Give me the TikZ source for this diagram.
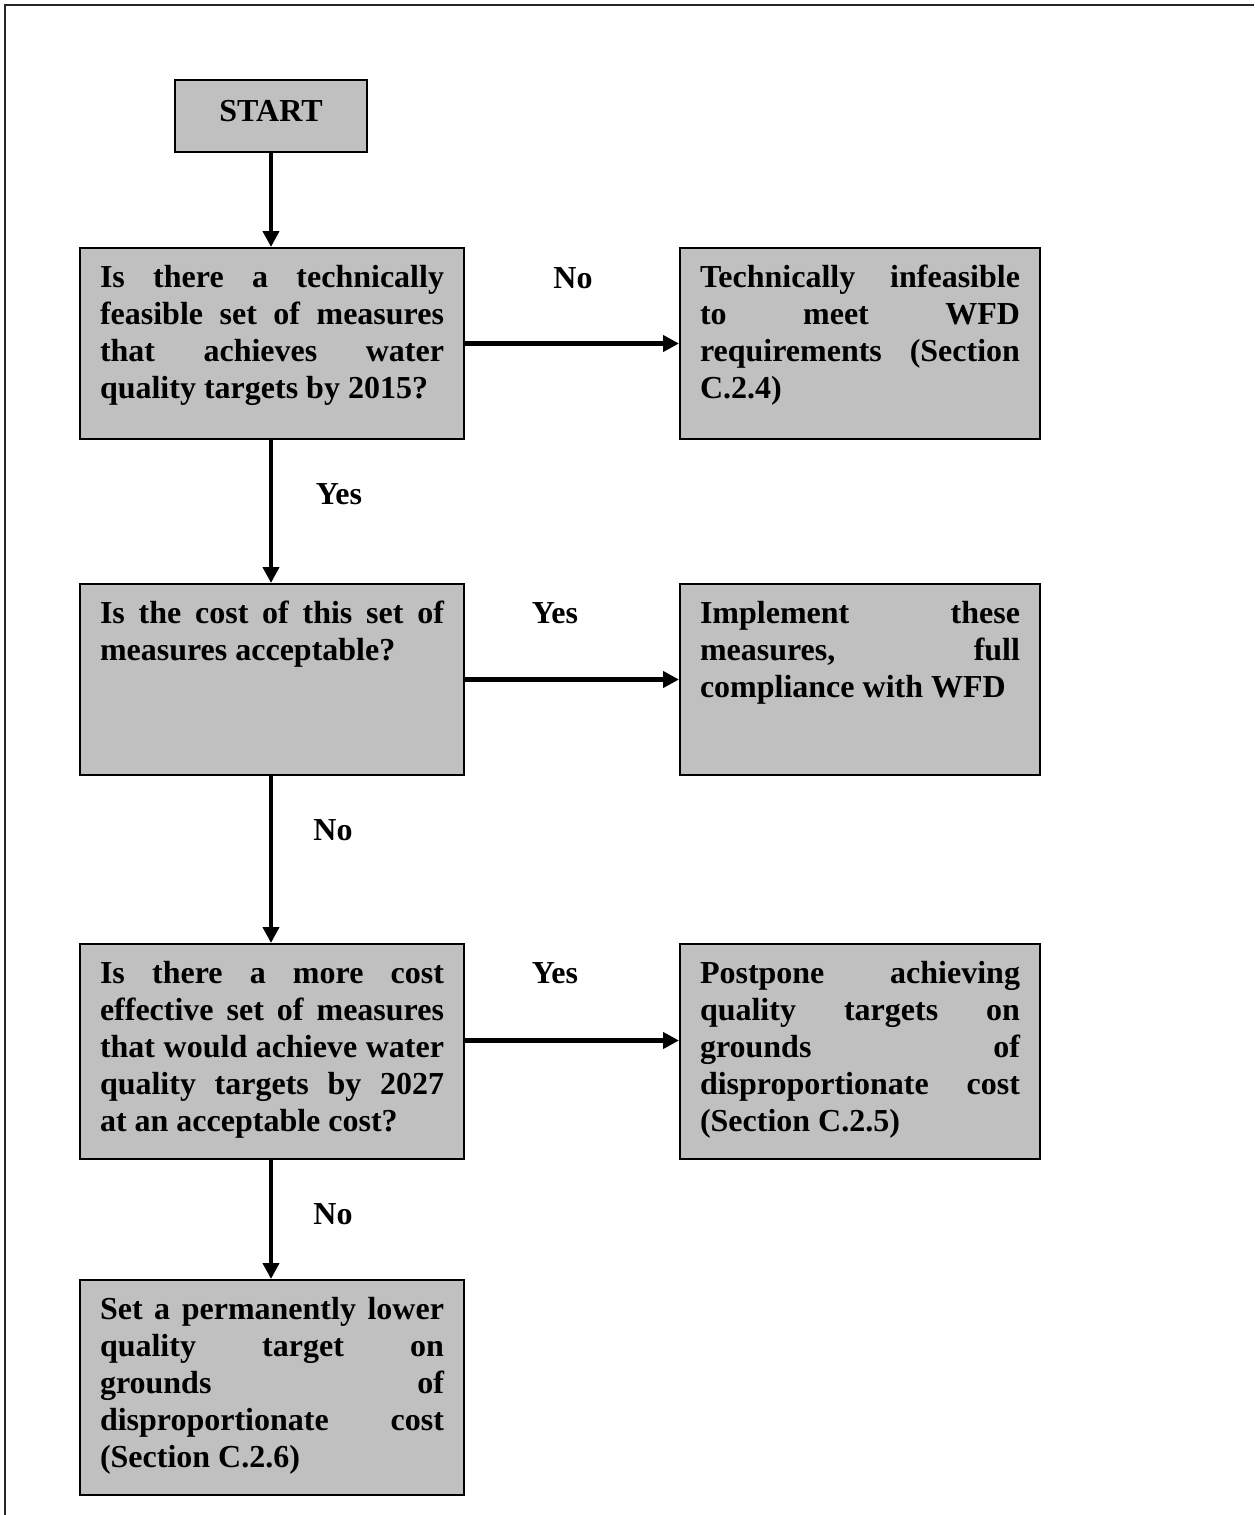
\documentclass[tikz,border=0pt]{standalone}
\usepackage{fontspec}
\setmainfont{Liberation Serif}
\usetikzlibrary{arrows.meta}
\definecolor{boxgray}{HTML}{C0C0C0}
\newcommand\bxtext[3]{\parbox[t][#1][t]{#2}{\tolerance=10000\hbadness=10000\strut #3}}
\begin{document}
\begin{tikzpicture}[x=0.5pt,y=-0.5pt,
  every node/.style={font=\fontsize{16pt}{18.5pt}\selectfont\bfseries},
  fbox/.style={draw=black, line width=1pt, fill=boxgray, inner xsep=10pt, inner ysep=7pt, anchor=north west},
  arr/.style={line width=2.1pt, -{Triangle[length=8pt,width=8pt]}},
  lbl/.style={anchor=base, inner sep=0pt}]
\useasboundingbox (0,0) rectangle (1254,1515);
% frame
\draw[line width=0.9pt, black!85] (1254,5) -- (5,5) -- (5,1515);
% boxes
\node[fbox, inner ysep=8pt] (start) at (174,79) {\parbox[t][20pt][t]{76pt}{\centering\strut START}};
\node[fbox] (b1) at (79,247) {\bxtext{81.5pt}{172pt}{Is there a technically\linebreak feasible set of measures\linebreak that achieves water\linebreak quality targets by 2015?}};
\node[fbox] (r1) at (679,247) {\bxtext{81.5pt}{160pt}{Technically infeasible\linebreak to meet WFD\linebreak requirements (Section\linebreak C.2.4)}};
\node[fbox] (b2) at (79,583) {\bxtext{81.5pt}{172pt}{Is the cost of this set of\linebreak measures acceptable?}};
\node[fbox] (r2) at (679,583) {\bxtext{81.5pt}{160pt}{Implement these\linebreak measures, full\linebreak compliance with WFD}};
\node[fbox] (b3) at (79,943) {\bxtext{93.5pt}{172pt}{Is there a more cost\linebreak effective set of measures\linebreak that would achieve water\linebreak quality targets by 2027\linebreak at an acceptable cost?}};
\node[fbox] (r3) at (679,943) {\bxtext{93.5pt}{160pt}{Postpone achieving\linebreak quality targets on\linebreak grounds of\linebreak disproportionate cost\linebreak (Section C.2.5)}};
\node[fbox] (b4) at (79,1279) {\bxtext{93.5pt}{172pt}{Set a permanently lower\linebreak quality target on\linebreak grounds of\linebreak disproportionate cost\linebreak (Section C.2.6)}};
% connectors
\draw[arr] (start.south) -- (start.south |- b1.north);
\draw[arr] (b1.south -| start.south) -- (start.south |- b2.north);
\draw[arr] (b2.south -| start.south) -- (start.south |- b3.north);
\draw[arr] (b3.south -| start.south) -- (start.south |- b4.north);
\draw[arr] (b1.east) -- (r1.west);
\draw[arr] (b2.east) -- (r2.west);
\draw[arr] ([yshift=5.5pt]b3.east) -- ([yshift=5.5pt]r3.west);
% labels
\node[lbl] (l1) at (573,288) {No};
\node[lbl] (l2) at (339,504) {Yes};
\node[lbl] (l3) at (555,623) {Yes};
\node[lbl] (l4) at (333,840) {No};
\node[lbl] (l5) at (555,983) {Yes};
\node[lbl] (l6) at (333,1224) {No};
\end{tikzpicture}
\end{document}
